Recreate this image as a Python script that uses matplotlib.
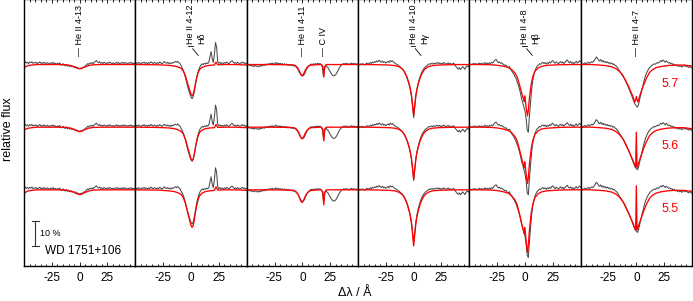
import numpy as np
import matplotlib.pyplot as plt

plt.rcParams['font.family'] = ['Liberation Sans', 'DejaVu Sans']
plt.rcParams['axes.unicode_minus'] = False

# observed spectrum, 1 A steps, deviation from continuum in per mille
wl = np.arange(-50, 51)

obs_4_13 = [8, 12, 6, 9, 4, 10, 7, 11, 5, 8,
            6, 9, 3, 7, 10, 5, 8, 4, 9, 6,
            3, 8, 5, 2, 7, 4, 9, 3, 6, 1,
            5, 2, 7, 0, -3, 4, -2, -5, 1, -6,
            -3, -8, -4, -9, -6, -11, -8, -13, -12, -15,
            -17, -14, -16, -11, -9, -6, -2, 3, 1, 6,
            4, 8, 3, 9, 12, 16, 10, 7, 11, 5,
            8, 4, 9, 6, 3, 8, 5, 10, 6, 4,
            7, 2, 6, 9, 4, 8, 3, 7, 5, 9,
            4, 8, 6, 3, 7, 5, 9, 4, 6, 3, 7]
obs_4_12 = [3, 7, 4, 9, 5, 2, 8, 6, 10, 4,
            7, 3, 8, 5, 11, 7, 4, 9, 6, 3,
            8, 5, 10, 6, 3, 7, 12, 8, 5, 9,
            4, 7, 3, 8, 6, 10, 12, 9, 13, 8,
            5, -4, -12, -22, -35, -52, -70, -88, -104, -118,
            -130, -136, -128, -108, -82, -55, -35, -20, -9, -2,
            3, 0, 5, 2, 7, 4, 9, 30, 52, 25,
            8, 40, 88, 70, 12, 5, 9, 3, 7, 4,
            8, 5, 10, 6, 3, 8, 12, 15, 9, 5,
            8, 4, 9, 6, 3, 7, 10, 5, 8, 2, 6]
obs_4_11 = [2, -3, 1, -5, -2, -7, -4, -8, -3, -6,
            -9, -5, -8, -2, -6, -1, -4, 2, -2, 3,
            0, 5, 2, 6, 1, 4, 8, 3, 6, 2,
            5, 1, 4, -1, 3, 0, 2, -3, 1, -2,
            -4, -1, -6, -3, -8, -12, -18, -27, -36, -42,
            -46, -44, -38, -27, -17, -10, -5, -1, 2, -1,
            3, 0, 4, 1, 5, 2, 4, 0, -10, -48,
            -15, -3, -8, -12, -20, -28, -36, -42, -45, -44,
            -40, -33, -24, -15, -8, -3, 1, 4, 2, 5,
            1, 4, 0, 3, 6, 2, 5, 1, 4, 0, 3]
obs_4_10 = [2, -1, 3, 0, 4, 1, -2, 3, 6, 2,
            5, 8, 4, 10, 7, 12, 9, 15, 11, 17,
            13, 9, 14, 8, 11, 6, 10, 13, 8, 16,
            12, 15, 9, 6, 3, 0, -2, -6, -10, -14,
            -18, -25, -33, -42, -53, -66, -82, -102, -128, -166,
            -212, -168, -126, -98, -78, -60, -46, -34, -24, -17,
            -12, -7, -4, 0, 3, 1, 5, 2, 6, 3,
            5, 8, 4, 7, 2, 6, 3, 8, 5, 1,
            4, 7, 2, 5, 0, 3, 6, -2, -8, -14,
            -18, -12, -20, -15, -8, -13, -19, -10, -5, -9, -4]
obs_4_8 = [0, 3, -1, 2, 5, 1, 4, 0, 3, 6,
           2, 5, 1, 4, 8, 3, 6, 2, 7, 4,
           9, 6, 12, 18, 20, 14, 8, 10, 5, 7,
           3, 0, -4, -2, -9, -12, -8, -17, -25, -32,
           -38, -48, -56, -70, -82, -98, -115, -138, -152, -170,
           -185, -215, -262, -270, -205, -150, -98, -62, -40, -25,
           -14, -6, -2, 3, 1, 6, 9, 4, 8, 2,
           7, 4, 10, 6, 13, 16, 9, 5, 11, 7,
           3, 8, 12, 6, 10, 4, 9, 14, 18, 11,
           7, 12, 5, 9, 3, 8, 13, 6, 10, 15, 11]
obs_4_7 = [2, 5, 0, 4, 7, 3, 6, 10, 5, 8,
           12, 9, 15, 22, 30, 26, 18, 14, 20, 11,
           16, 9, 13, 7, 11, 5, 8, 3, 6, 0,
           2, -4, -6, -12, -18, -27, -33, -40, -47, -54,
           -62, -72, -82, -92, -103, -114, -126, -138, -150, -160,
           -165, -170, -160, -138, -120, -100, -82, -64, -48, -36,
           -26, -18, -12, -7, -3, 0, 3, 1, 5, 8,
           6, 11, 16, 12, 18, 14, 9, 15, 10, 6,
           8, 3, 5, -1, 2, -4, -2, -7, -3, -8,
           -5, -10, -6, -2, -8, -4, -9, -12, -7, -11, -14]

# model spectra (per mille) for log g = 5.7, 5.6, 5.5
m1_x = [-50, -48, -46, -43, -38, -20, -12, -8, -5, -3, -1, 0, 1, 3, 5, 8, 12, 20, 35, 50]
m1 = [[-13, -7, -4, -2, 0, 0, -1, -4, -9, -13, -16, -17, -16, -13, -9, -4, -1, 0, 0, 0],
      [-13, -7, -4, -2, 0, 0, -1, -4, -9, -14, -17, -18, -17, -14, -9, -4, -1, 0, 0, 0],
      [-14, -8, -4, -2, 0, 0, -1, -5, -10, -15, -18, -19, -18, -15, -10, -5, -1, 0, 0, 0]]

m2_x = [-50, -30, -20, -15, -12, -9, -7, -5, -4, -3, -2, -1, 0, 1, 2, 3, 4, 5, 6, 7,
        8, 10, 13, 17, 21, 22.5, 24, 30, 40, 50]
m2 = [[0, -1, -3, -6, -9, -15, -25, -45, -60, -75, -90, -105, -118, -125, -118, -100, -75, -55, -38, -26,
       -18, -11, -6, -3, -2, 10, -1, 0, 0, -2],
      [0, -1, -3, -6, -10, -16, -27, -48, -64, -80, -96, -112, -126, -134, -126, -107, -80, -59, -41, -28,
       -19, -12, -6, -3, -2, 11, -1, 0, 0, -2],
      [0, -1, -4, -7, -11, -18, -30, -54, -72, -90, -108, -126, -142, -150, -142, -120, -90, -66, -46, -31,
       -22, -13, -7, -4, -2, 12, -1, 0, 0, -2]]

m3_x = [-50, -30, -12, -8, -6, -4, -2.5, -1, 0, 1, 2.5, 4, 6, 8, 12, 17, 18.5, 19.3, 20.1, 21.5, 30, 50]
m3 = [[0, 0, -1, -2, -5, -14, -28, -42, -44, -38, -24, -13, -5, -2, -1, 0, -8, -50, -8, 0, 0, 0],
      [0, 0, -1, -2, -5, -15, -29, -44, -46, -40, -25, -14, -5, -2, -1, 0, -9, -55, -9, 0, 0, 0],
      [0, 0, -1, -2, -6, -16, -32, -48, -50, -43, -27, -15, -6, -2, -1, 0, -10, -60, -10, 0, 0, 0]]

m4_x = [-50, -40, -30, -22, -17, -13, -10, -8, -6, -4, -3, -2, -1, 0, 1, 2, 3, 4, 6, 8,
        10, 13, 17, 22, 30, 40, 50]
m4 = [[0, 0, -1, -2, -4, -9, -18, -31, -50, -78, -97, -121, -160, -204, -160, -121, -97, -78, -50, -31,
       -18, -9, -4, -2, -1, 0, 0],
      [0, 0, -1, -2, -4, -9, -19, -32, -52, -80, -100, -125, -165, -209, -165, -125, -100, -80, -52, -32,
       -19, -9, -4, -2, -1, 0, 0],
      [0, 0, -1, -2, -4, -10, -20, -34, -55, -86, -107, -134, -176, -224, -176, -134, -107, -86, -55, -34,
       -20, -10, -4, -2, -1, 0, 0]]

m5_x = [-50, -40, -30, -25, -20, -15, -12, -9, -7, -5, -3, -2, -1, -0.6, -0.3, 0.5, 1.5, 2.3, 3, 4,
        5.5, 7, 9, 12, 15, 20, 30, 40, 50]
m5 = [[0, 0, -1, -3, -6, -12, -20, -34, -50, -80, -113, -130, -138, -148, -125, -150, -186, -205, -182, -133,
       -80, -48, -26, -13, -7, -3, -1, 0, 0],
      [0, 0, -1, -3, -7, -13, -22, -37, -55, -88, -125, -143, -152, -162, -138, -165, -205, -225, -200, -146,
       -88, -53, -28, -14, -7, -4, -1, 0, 0],
      [0, 0, -1, -3, -7, -14, -24, -40, -60, -95, -135, -155, -165, -175, -150, -180, -225, -250, -220, -160,
       -95, -58, -30, -15, -8, -4, -1, 0, 0]]

m6_x = [-50, -40, -33, -28, -22, -18, -15, -12, -9, -7, -5, -3, -1.5, -0.6, 0, 0.6, 1.5, 3, 5, 7,
        9, 12, 15, 18, 22, 28, 35, 42, 46, 50]
m6 = [[0, 0, -2, -4, -9, -17, -28, -44, -70, -87, -108, -128, -150, -140, -127, -140, -150, -126, -100, -77,
       -55, -31, -19, -12, -8, -4, -2, -2, -4, -6],
      [0, 0, -2, -4, -9, -18, -30, -47, -75, -92, -113, -133, -150, -160, -20, -160, -150, -130, -105, -80,
       -58, -33, -20, -13, -8, -4, -2, -2, -4, -6],
      [0, 0, -2, -4, -9, -18, -30, -47, -75, -92, -113, -133, -150, -160, 16, -160, -150, -130, -105, -80,
       -58, -33, -20, -13, -8, -4, -2, -2, -4, -6]]

logg = ['5.7', '5.6', '5.5']
shifts = [0.5, 0.25, 0.0]

panels = [
    (obs_4_13, m1_x, m1, [('He II 4-13', 0)], None),
    (obs_4_12, m2_x, m2, None, ('He II 4-12', 'H\u03b4')),
    (obs_4_11, m3_x, m3, [('He II 4-11', 0), ('C IV', 19.3)], None),
    (obs_4_10, m4_x, m4, None, ('He II 4-10', 'H\u03b3')),
    (obs_4_8, m5_x, m5, None, ('He II 4-8', 'H\u03b2')),
    (obs_4_7, m6_x, m6, [('He II 4-7', 0)], None),
]

fig, axes = plt.subplots(1, 6, figsize=(6.93, 3.01), dpi=100, sharey=True)
fig.subplots_adjust(left=24/693, right=692/693, bottom=35/301, top=1.002, wspace=0)

for ax, (obs, mx, mods, singles, pair) in zip(axes, panels):
    for k in range(3):
        ax.plot(wl, 1 + np.array(obs)/1000 + shifts[k], color='#4a4a4a', lw=0.75)
        ax.plot(mx, 1 + np.array(mods[k])/1000 + shifts[k], color='red', lw=0.95)
    ax.set_xlim(-50, 50)
    ax.set_ylim(0.696, 1.76)
    ax.set_yticks([])
    ax.set_xticks([-25, 0, 25])
    ax.set_xticks(np.arange(-50, 51, 5), minor=True)
    ax.tick_params(axis='x', which='both', direction='in', top=True, width=0.6, labelsize=8.5, pad=4)
    ax.tick_params(axis='x', which='major', length=3)
    ax.tick_params(axis='x', which='minor', length=1.8)
    for s in ax.spines.values():
        s.set_linewidth(1.0)
    tr = ax.get_xaxis_transform()
    if singles:
        for name, x in singles:
            ax.text(x, 0.786, '\u2014 ' + name, rotation=90, ha='center', va='bottom',
                    fontsize=6.5, transform=tr)
    if pair:
        ax.text(-0.5, 0.832, pair[0], rotation=90, ha='center', va='bottom', fontsize=6.5, transform=tr)
        ax.text(10, 0.832, pair[1], rotation=90, ha='center', va='bottom', fontsize=6.5, transform=tr)
        ax.plot([-2.5, 1.5], [0.826, 0.826], color='k', lw=0.6, transform=tr)
        ax.plot([1.5, 6.5], [0.815, 0.79], color='k', lw=0.6, transform=tr)

# log g labels
for k in range(3):
    axes[5].text(30, 1 + shifts[k] - 0.077, logg[k], color='red', ha='center', va='center', fontsize=9)

# 10 % scale bar
axes[0].plot([-39.7, -39.7], [0.777, 0.877], color='#333333', lw=0.8)
axes[0].plot([-42.7, -36.7], [0.877, 0.877], color='#333333', lw=0.8)
axes[0].plot([-42.7, -36.7], [0.777, 0.777], color='#333333', lw=0.8)
axes[0].text(-36, 0.827, '10 %', fontsize=6.5, ha='left', va='center')
axes[0].text(-31, 0.757, 'WD 1751+106', fontsize=8.5, ha='left', va='center')

fig.text(355/693, 0.027, '\u0394\u03bb / \u00c5', ha='center', va='center', fontsize=9)
fig.text(8/693, 0.57, 'relative flux', rotation=90, ha='center', va='center', fontsize=9)

fig.savefig('out.png', dpi=100)
